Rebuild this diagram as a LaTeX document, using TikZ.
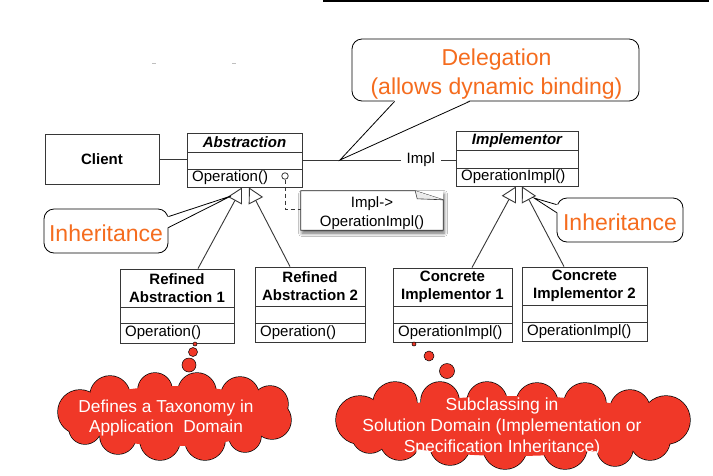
\documentclass[tikz,border=0pt]{standalone}
\usepackage{fontspec}
\setmainfont{Liberation Sans}
\usetikzlibrary{arrows.meta,calc,shadows.blur}
\definecolor{calloutorange}{RGB}{245,108,30}
\definecolor{cloudred}{RGB}{240,56,40}
\definecolor{umlgray}{RGB}{55,55,55}
\tikzset{
 clsbox/.style={draw=umlgray, line width=0.9pt, fill=white, inner sep=0pt, rectangle},
 clsline/.style={draw=umlgray, line width=0.9pt},
 clstitle/.style={font=\fontsize{15}{18}\selectfont\bfseries, align=center, inner sep=0pt},
 clsop/.style={font=\fontsize{15}{18}\selectfont, anchor=west, inner sep=0pt},
 inh/.style={draw=umlgray, line width=0.9pt, -{Triangle[length=15pt,width=16pt,fill=white,line width=0.9pt]}},
 assoc/.style={draw=umlgray, line width=0.9pt},
 callbox/.style={draw=black, line width=0.8pt, fill=white, rounded corners=10pt, inner sep=0pt},
 calltext/.style={font=\fontsize{23}{29}\selectfont, text=calloutorange, align=center, inner sep=0pt},
 callline/.style={draw=black, line width=0.8pt},
 puffline/.style={fill=cloudred, draw=black, line width=1.4pt},
 pufffill/.style={fill=cloudred},
 cloudtext/.style={text=white, align=center, inner sep=0pt},
 bubble/.style={circle, draw=black, line width=0.5pt, fill=cloudred, inner sep=0pt},
 notebox/.style={fill=white, inner sep=0pt, blur shadow={shadow xshift=1pt, shadow yshift=-3pt, shadow blur radius=3.5pt, shadow opacity=60}},
 notetext/.style={font=\fontsize{15}{19}\selectfont, align=center, inner sep=0pt},
}
% name, x1, x2, ytop, ydiv1, ydiv2, ybottom, title, operation
\newcommand\umlcls[9]{%
 \node[clsbox, minimum width={#3-#2}, minimum height={#7-#4}] (#1) at ({(#2+#3)/2},{(#4+#7)/2}) {};
 \draw[clsline] (#2,#5) -- (#3,#5) (#2,#6) -- (#3,#6);
 \node[clstitle] (#1-t) at ({(#2+#3)/2},{(#4+#5)/2}) {#8};
 \node[clsop] (#1-o) at ({#2+5},{(#6+#7)/2}) {#9};
}
% cloud: centre x, centre y, inner rx, inner ry, list of puffs x/y/r
\newcommand\puffcloud[5]{%
 \foreach \px/\py/\pr in {#5} {\path[puffline] (\px,\py) circle[radius=\pr];}
 \foreach \px/\py/\pr in {#5} {\path[pufffill] (\px,\py) circle[radius=\pr];}
 \path[pufffill] (#1,#2) ellipse[x radius=#3, y radius=#4];
}
\begin{document}
\begin{tikzpicture}[x=1pt,y=-1pt]
\useasboundingbox[fill=white] (0,0) rectangle (713,475);

% top rule and faint marks
\draw[black, line width=1.2pt] (323,1) -- (709,1);
\draw[black!25, line width=0.6pt] (152,63) -- (156,63) (232,63) -- (236,63);

% classes
\node[clsbox, minimum width=114, minimum height=50] (client) at (102,159) {};
\node[clstitle] (client-t) at (102,159) {Client};
\umlcls{abstr}{187}{302}{133}{152}{169}{187}{\itshape Abstraction}{Operation()}
\umlcls{impl}{456}{578}{131}{150}{168}{186}{\itshape Implementor}{OperationImpl()}
\umlcls{ra1}{120}{234}{269}{307}{323}{343}{Refined\\Abstraction 1}{Operation()}
\umlcls{ra2}{255}{365}{267}{306}{323}{342}{Refined\\Abstraction 2}{Operation()}
\umlcls{ci1}{393}{512}{268}{306}{323}{342}{Concrete\\Implementor 1}{OperationImpl()}
\umlcls{ci2}{522}{647}{267}{305}{322}{341}{Concrete\\Implementor 2}{OperationImpl()}

% associations
\draw[assoc] (client.east) -- (client.east -| abstr.west);
\draw[assoc] (abstr.east) -- (abstr.east -| impl.west)
  node[pos=0.773, fill=white, inner xsep=6pt, inner ysep=2pt, font=\fontsize{15}{18}\selectfont] (impllbl) {Impl};

% inheritance
\draw[inh] ([xshift=21pt]ra1.north) -- ([xshift=-2.5pt]abstr.south);
\draw[inh] ([xshift=-20pt]ra2.north) -- ([xshift=4.5pt]abstr.south);
\draw[inh] ([xshift=19.5pt]ci1.north) -- ([xshift=-1pt]impl.south);
\draw[inh] ([xshift=-20.5pt]ci2.north) -- ([xshift=5pt]impl.south);

% note
\node[notebox, minimum width=142, minimum height=39] (note) at (372,210.5) {};
\draw[clsline, line width=0.8pt] (note.north west) -- ($(note.north east)+(-28,0)$) -- ($(note.north east)+(0,9)$) -- (note.south east) -- (note.south west) -- cycle;
\filldraw[black!8, draw=umlgray, line width=0.6pt] ($(note.north east)+(-28,0)$) -- ($(note.north east)+(-26,8)$) -- ($(note.north east)+(0,9)$);
\node[notetext] (note-t) at (372,213.5) {Impl->\\OperationImpl()};
\node[circle, draw=umlgray, line width=0.8pt, fill=white, inner sep=0pt, minimum size=6.5pt] (opdot) at (285,176) {};
\draw[umlgray, line width=0.8pt, dash pattern=on 4pt off 3pt] (opdot.south) |- (note.west |- 0,209);

% Delegation callout
\coordinate (dtip) at (340,160);
\node[callbox, minimum width=287, minimum height=62] (deleg) at (495.5,70) {};
\fill[white] ($(deleg.south west)+(43,-1.2)$) -- (dtip) -- ($(deleg.south west)+(118,-1.2)$) -- cycle;
\draw[callline] ($(deleg.south west)+(43,0)$) -- (dtip) -- ($(deleg.south west)+(118,0)$);
\node[calltext] (deleg-t) at (496.5,74) {Delegation\\(allows dynamic binding)};

% Left Inheritance callout
\coordinate (ltip) at (231,196);
\node[callbox, minimum width=124, minimum height=44] (inhl) at (106,231) {};
\fill[white] ($(inhl.north east)+(-1.2,8)$) -- (ltip) -- ($(inhl.north east)+(-1.2,19)$) -- cycle;
\draw[callline] ($(inhl.north east)+(0,8)$) -- (ltip) -- ($(inhl.north east)+(0,19)$);
\node[calltext] (inhl-t) at (106,233) {Inheritance};

% Right Inheritance callout
\coordinate (rtip) at (534,198);
\node[callbox, minimum width=126, minimum height=44] (inhr) at (620,220) {};
\fill[white] ($(inhr.north west)+(1.2,7)$) -- (rtip) -- ($(inhr.north west)+(1.2,15)$) -- cycle;
\draw[callline] ($(inhr.north west)+(0,7)$) -- (rtip) -- ($(inhr.north west)+(0,15)$);
\node[calltext] (inhr-t) at (620,222) {Inheritance};

% thought bubbles and clouds
\node[bubble, minimum size=4pt] (lb1) at (195,344) {};
\node[bubble, minimum size=9pt] (lb2) at (193,352) {};
\node[bubble, minimum size=14pt] (lb3) at (189,365) {};
\puffcloud{175}{416}{100}{30}{80/412/22, 110/396/20, 155/390/17, 197/392/19, 240/396/19, 270/404/18, 272/420/19, 245/436/16, 205/440/20, 160/440/20, 118/436/18, 85/428/16}
\node[cloudtext, font=\fontsize{17.3}{20}\selectfont] (cloudl-t) at (166,418) {Defines a Taxonomy in\\Application\ \ Domain};

\node[bubble, minimum size=4pt] (rb1) at (414,344) {};
\node[bubble, minimum size=10pt] (rb2) at (429,356) {};
\node[bubble, minimum size=15pt] (rb3) at (447,371) {};
\puffcloud{513}{426}{150}{30}{360/420/24, 395/404/22, 440/401/19, 487/402/20, 537/404/21, 585/404/21, 630/410/20, 666/420/24, 650/440/20, 615/448/18, 565/447/22, 505/447/22, 450/445/20, 400/440/20, 370/435/18}
\node[cloudtext, font=\fontsize{17.5}{21}\selectfont] (cloudr-t) at (502,426.5) {Subclassing in\\Solution Domain (Implementation or\\Specification Inheritance)};
\end{tikzpicture}
\end{document}
